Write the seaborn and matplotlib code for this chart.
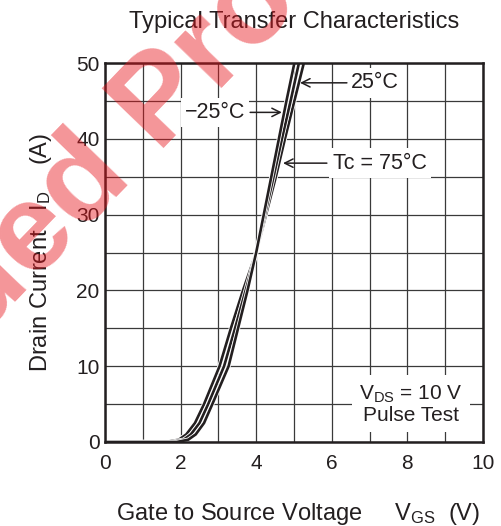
import numpy as np
import pandas as pd
import matplotlib.pyplot as plt
import matplotlib.patheffects as pe
import seaborn as sns

id_levels = [0, 0, 0.3, 1, 2.5, 5, 10, 15, 20, 25, 30, 35, 40, 45, 50]
vgs_75 = [0, 1.60, 1.95, 2.15, 2.38, 2.62, 3.03, 3.33, 3.65, 4.00, 4.26, 4.52, 4.76, 5.01, 5.26]
vgs_25 = [0, 1.75, 2.08, 2.27, 2.50, 2.73, 3.15, 3.44, 3.72, 4.00, 4.23, 4.46, 4.68, 4.91, 5.13]
vgs_m25 = [0, 1.90, 2.20, 2.40, 2.62, 2.84, 3.27, 3.52, 3.77, 4.00, 4.20, 4.40, 4.60, 4.80, 5.01]

x_ticks = list(range(0, 11))
x_labels = [str(v) if v % 2 == 0 else "" for v in x_ticks]
y_ticks = list(range(0, 51, 5))
y_labels = [str(v) if v % 10 == 0 else "" for v in y_ticks]

df = pd.concat([
    pd.DataFrame({"vgs": vgs_75, "id": id_levels, "temp": "75"}),
    pd.DataFrame({"vgs": vgs_25, "id": id_levels, "temp": "25"}),
    pd.DataFrame({"vgs": vgs_m25, "id": id_levels, "temp": "-25"}),
])

sns.set_style("white")
plt.rcParams['font.family'] = ['Liberation Sans', 'DejaVu Sans']
plt.rcParams['mathtext.default'] = 'regular'
ink = "#231f20"

fig = plt.figure(figsize=(5.01, 5.26), dpi=100)
ax = fig.add_axes([0.2096, 0.1597, 0.964 - 0.2096, 0.880 - 0.1597])

for t in ["75", "25", "-25"]:
    sub = df[df["temp"] == t]
    sns.lineplot(data=sub, x="vgs", y="id", sort=False, estimator=None,
                 color=ink, lw=1.9, ax=ax,
                 path_effects=[pe.Stroke(linewidth=3.1, foreground="white"), pe.Normal()])

ax.set_xlim(0, 10)
ax.set_ylim(0, 50)
ax.set_xticks(x_ticks)
ax.set_xticklabels(x_labels)
ax.set_yticks(y_ticks)
ax.set_yticklabels(y_labels)
ax.tick_params(length=0, labelsize=15, colors=ink)
ax.tick_params(axis="x", pad=9)
ax.tick_params(axis="y", pad=4)
ax.grid(True, color="#3a3a3a", lw=0.9)
for s in ax.spines.values():
    s.set_color(ink)
    s.set_linewidth(1.8)

ax.set_xlabel("Gate to Source Voltage     V$_{GS}$  (V)", fontsize=17, color=ink, labelpad=20)
ax.xaxis.set_label_coords(0.51, -0.155)
ax.set_ylabel("Drain Current   I$_D$    (A)", fontsize=17, color=ink, labelpad=16)
ax.set_title("Typical Transfer Characteristics", fontsize=17, color=ink, pad=25)

box = dict(boxstyle="square,pad=0.2", fc="white", ec="none")
arrow = dict(arrowstyle="->,head_length=0.6,head_width=0.3", lw=1.1, color=ink, shrinkA=0, shrinkB=0)

ax.text(2.91, 43.5, "\u221225\u00b0C", fontsize=15.5, color=ink, ha="center", va="center", bbox=box, zorder=5)
ax.annotate("", xy=(4.68, 43.5), xytext=(3.84, 43.5), arrowprops=arrow, zorder=5)

ax.text(7.14, 47.4, "25\u00b0C", fontsize=15.5, color=ink, ha="center", va="center", bbox=box, zorder=5)
ax.annotate("", xy=(5.16, 47.4), xytext=(6.40, 47.4), arrowprops=arrow, zorder=5)

ax.text(7.28, 36.8, "Tc = 75\u00b0C", fontsize=15.5, color=ink, ha="center", va="center", bbox=box, zorder=5)
ax.annotate("", xy=(4.71, 36.8), xytext=(5.87, 36.8), arrowprops=arrow, zorder=5)

ax.text(8.1, 5.0, "V$_{DS}$ = 10 V\nPulse Test", fontsize=15, color=ink, ha="center", va="center",
        linespacing=1.1, bbox=dict(boxstyle="square,pad=0.35", fc="white", ec="none"), zorder=5)

# red watermark laid over the whole sheet
fig.text(0.07, 0.465, "Discontinued Product", fontsize=90, fontweight="bold",
         color="#e8141c", alpha=0.45, rotation=46, rotation_mode="anchor",
         ha="center", va="baseline")

fig.savefig("out.png", dpi=100)
